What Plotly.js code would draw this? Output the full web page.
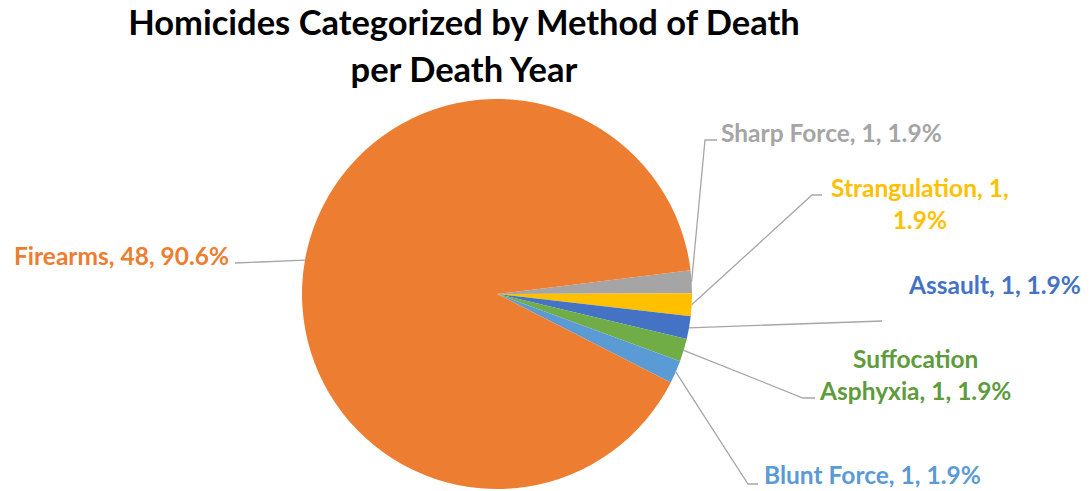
<!DOCTYPE html>
<html>
<head>
<meta charset="utf-8">
<script src="https://cdn.plot.ly/plotly-3.0.1.min.js"></script>
<style>html,body{margin:0;padding:0;background:#fff;}#chart{width:1092px;height:491px;}</style>
</head>
<body>
<div id="chart"></div>
<script>
// Data
const categories = ["Sharp Force", "Strangulation", "Assault", "Suffocation Asphyxia", "Blunt Force", "Firearms"];
const counts = [1, 1, 1, 1, 1, 48];
const sliceColors = ["#A5A5A5", "#FFC000", "#4472C4", "#70AD47", "#5B9BD5", "#ED7D31"];
const labelColors = ["#A5A5A5", "#FFC000", "#4472C4", "#5E9B3C", "#5B9BD5", "#ED7D31"];

const W = 1092, H = 491;
const cx = 497, cy = 294, R = 195;
const rotation = 83;

const total = counts.reduce((a, b) => a + b, 0);
const pct = counts.map(v => (100 * v / total).toFixed(1) + "%");

// label text + placement (pixel coords), and leader line path points after the pie edge
const labelLayout = [
  {text: categories[0] + ", " + counts[0] + ", " + pct[0], x: 719, y: 133, xa: "left", path: [[705,140],[717,140]]},
  {text: categories[1] + ", " + counts[1] + ",<br>" + pct[1], x: 920, y: 204, xa: "center", path: [[812,195],[822,195]]},
  {text: categories[2] + ", " + counts[2] + ", " + pct[2], x: 906, y: 284, xa: "left", path: [[882,321]]},
  {text: "Suffocation<br>Asphyxia, " + counts[3] + ", " + pct[3], x: 915, y: 374, xa: "center", path: [[803,398],[815,398]]},
  {text: categories[4] + ", " + counts[4] + ", " + pct[4], x: 762, y: 474, xa: "left", path: [[748,484],[758,484]]},
  {text: categories[5] + ", " + counts[5] + ", " + pct[5], x: 231, y: 256, xa: "right", path: [[235,263]]}
];

const px = x => x / W;
const py = y => 1 - y / H;

const annotations = [];
const shapes = [];
let cum = 0;
counts.forEach((v, i) => {
  const mid = (rotation + (cum + v / 2) / total * 360) * Math.PI / 180;
  cum += v;
  const sx = cx + R * Math.sin(mid);
  const sy = cy - R * Math.cos(mid);
  const L = labelLayout[i];
  let d = "M" + px(sx) + "," + py(sy);
  L.path.forEach(p => { d += " L" + px(p[0]) + "," + py(p[1]); });
  shapes.push({type: "path", xref: "paper", yref: "paper", path: d,
    line: {color: "#A6A6A6", width: 1.3}});
  annotations.push({text: L.text, xref: "paper", yref: "paper", x: px(L.x), y: py(L.y),
    xanchor: L.xa, yanchor: "middle", align: "center", showarrow: false,
    font: {family: "Lato, 'Open Sans', sans-serif", size: 24.5, color: labelColors[i], weight: "bold"}});
});

const trace = {
  type: "pie",
  labels: categories,
  values: counts,
  sort: false,
  direction: "clockwise",
  rotation: rotation,
  marker: {colors: sliceColors, line: {color: "#ffffff", width: 0}},
  textinfo: "none",
  hoverinfo: "label+value+percent",
  showlegend: false,
  domain: {x: [px(cx - R), px(cx + R)], y: [py(cy + R), py(cy - R)]}
};

const layout = {
  width: W, height: H,
  margin: {l: 0, r: 0, t: 0, b: 0},
  paper_bgcolor: "#ffffff",
  showlegend: false,
  title: {
    text: "<span style='font-size:34.5px'>Homicides Categorized by Method of Death</span><br><span style='font-size:34.5px'>per Death Year</span>",
    x: 464 / W, xanchor: "center", xref: "paper",
    y: 1 - 35 / H, yanchor: "top", yref: "container",
    font: {family: "Lato, 'Open Sans', sans-serif", size: 36, color: "#000000", weight: "bold"}
  },
  annotations: annotations,
  shapes: shapes
};

Plotly.newPlot("chart", [trace], layout, {displayModeBar: false, staticPlot: true});
</script>
</body>
</html>
